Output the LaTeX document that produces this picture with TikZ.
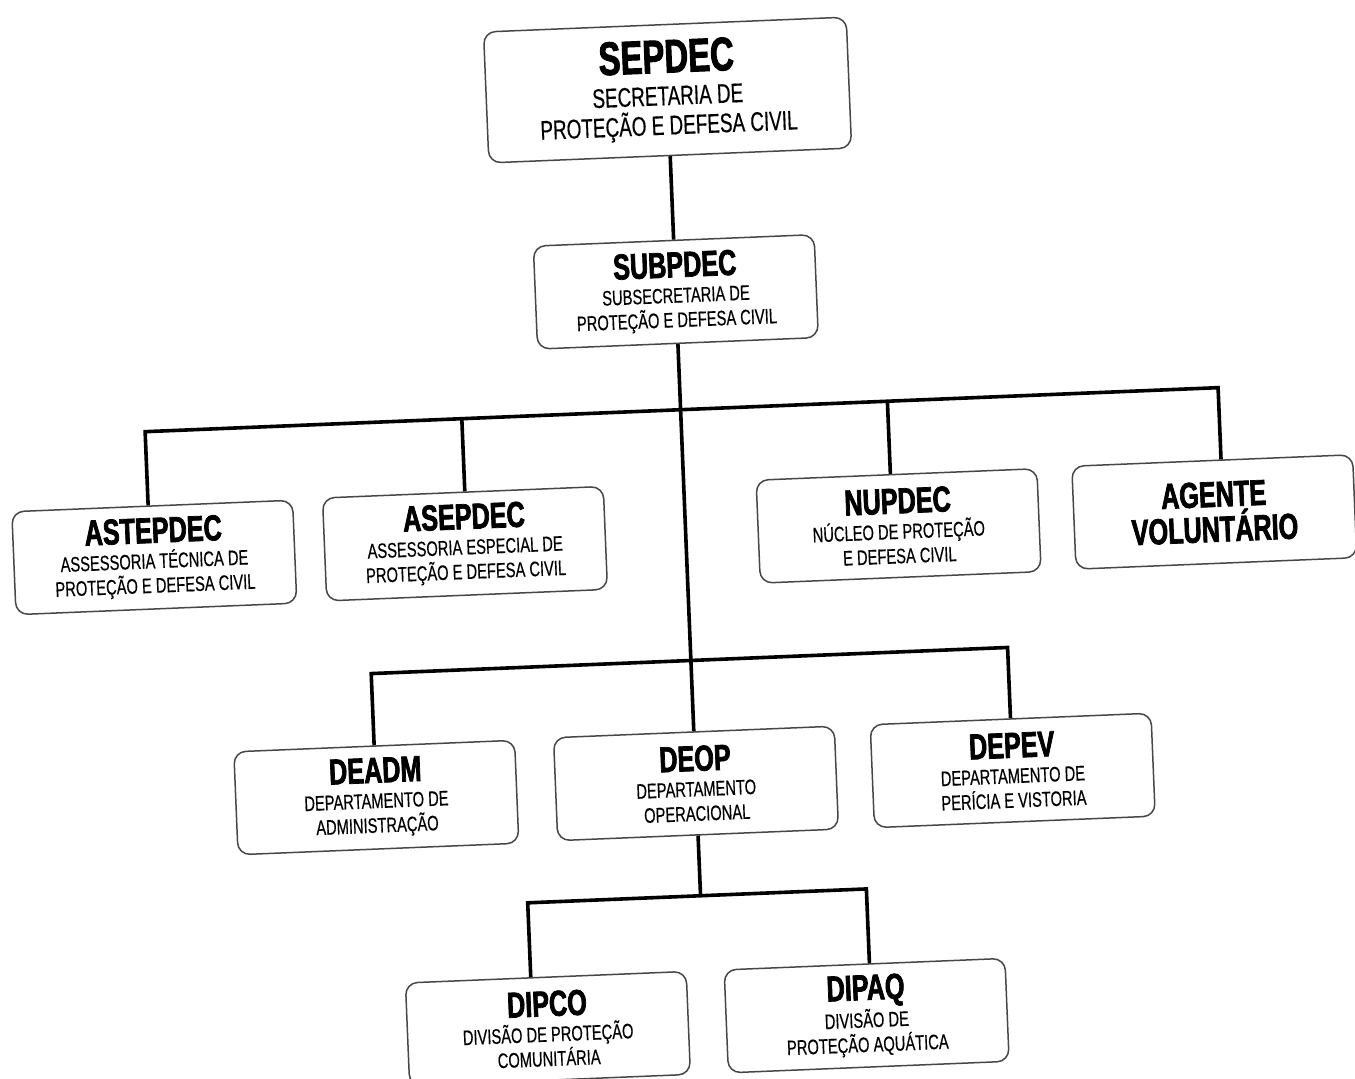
\documentclass[tikz,border=0pt]{standalone}
\usepackage{fontspec}
\usetikzlibrary{calc}
\newfontfamily\tfont{Liberation Sans}[FakeStretch=0.7,FakeBold=2]
\newfontfamily\sfont{Liberation Sans}[FakeStretch=0.7,FakeBold=0.4]
\newcommand{\ttl}{\tfont\bfseries\fontsize{36}{35}\selectfont}
\newcommand{\sbt}{\sfont\fontsize{21}{24.5}\selectfont}
\newcommand{\bigttl}{\tfont\bfseries\fontsize{47}{46}\selectfont}
\newcommand{\bigsbt}{\sfont\fontsize{27}{29.5}\selectfont}
\tikzset{
  unit box/.style={draw=black!72, line width=1.5pt, rounded corners=12pt, fill=white,
    minimum width=281pt, minimum height=103pt, inner sep=0pt, align=center,
    font=\sbt, transform shape},
  top box/.style={unit box, minimum width=363pt, minimum height=131pt, font=\bigsbt},
  conn/.style={line width=3.6pt, black, line cap=butt, line join=miter}
}
\begin{document}
\begin{tikzpicture}[x=1pt,y=-1pt]
\useasboundingbox (0,0) rectangle (1355,1079);
\clip (0,0) rectangle (1355,1079);
\fill[white] (0,0) rectangle (1355,1079);
\begin{scope}[rotate around={2.35:(677,540)}]
  \coordinate (b1l) at (150,410);
  \coordinate (b1a) at (467,410);
  \coordinate (b1n) at (893,410);
  \coordinate (b1r) at (1224,410);
  \coordinate (b2l) at (366,661);
  \coordinate (b2r) at (1003,661);
  \coordinate (b3l) at (513,896.5);
  \coordinate (b3r) at (852,896.5);

  \node[top box] (sep) at (686,90) {{\bigttl SEPDEC}\\[3pt]SECRETARIA DE\\PROTEÇÃO E DEFESA CIVIL};
  \node[unit box] (sub) at (686,292) {{\ttl SUBPDEC}\\[1pt]SUBSECRETARIA DE\\PROTEÇÃO E DEFESA CIVIL};
  \node[unit box] (astep) at (154,536) {{\ttl ASTEPDEC}\\[1pt]ASSESSORIA TÉCNICA DE\\PROTEÇÃO E DEFESA CIVIL};
  \node[unit box] (asep) at (465,535) {{\ttl ASEPDEC}\\[1pt]ASSESSORIA ESPECIAL DE\\PROTEÇÃO E DEFESA CIVIL};
  \node[unit box] (nup) at (899,535) {{\ttl NUPDEC}\\[1pt]NÚCLEO DE PROTEÇÃO\\E DEFESA CIVIL};
  \node[unit box, font=\ttl] (agente) at (1215,534) {AGENTE\\VOLUNTÁRIO};
  \node[unit box] (deadm) at (366,785) {{\ttl DEADM}\\[1pt]DEPARTAMENTO DE\\ADMINISTRAÇÃO};
  \node[unit box] (deop) at (686,784) {{\ttl DEOP}\\[1pt]DEPARTAMENTO\\OPERACIONAL};
  \node[unit box] (depev) at (1003,784) {{\ttl DEPEV}\\[1pt]DEPARTAMENTO DE\\PERÍCIA E VISTORIA};
  \node[unit box] (dipco) at (528,1023) {{\ttl DIPCO}\\[1pt]DIVISÃO DE PROTEÇÃO\\COMUNITÁRIA};
  \node[unit box] (dipaq) at (847,1023) {{\ttl DIPAQ}\\[1pt]DIVISÃO DE\\PROTEÇÃO AQUÁTICA};

  \draw[conn] (sep.south) -- (sub.north);
  \draw[conn] (sub.south) -- (deop.north);
  \draw[conn] (b1l |- astep.north) -- (b1l) -- (b1r) -- (b1r |- agente.north);
  \draw[conn] (b1a) -- (b1a |- asep.north);
  \draw[conn] (b1n) -- (b1n |- nup.north);
  \draw[conn] (deadm.north) -- (b2l) -- (b2r) -- (depev.north);
  \draw[conn] (deop.south) -- (deop.south |- b3l);
  \draw[conn] (b3l |- dipco.north) -- (b3l) -- (b3r) -- (b3r |- dipaq.north);
\end{scope}
\end{tikzpicture}
\end{document}
